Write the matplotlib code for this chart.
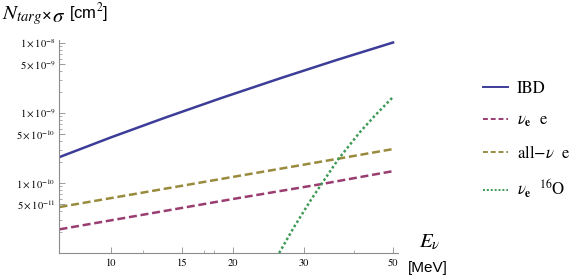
import matplotlib
matplotlib.use("Agg")
import matplotlib.pyplot as plt
from matplotlib.lines import Line2D
from matplotlib.ticker import FixedLocator, NullFormatter

plt.rcParams['mathtext.fontset'] = 'stix'
plt.rcParams['font.family'] = ['STIXGeneral', 'DejaVu Serif']

# valores (E em MeV, N_targ x sigma em cm^2)
e_ibd = [7.45, 10, 13.5, 18.7, 26.3, 36.3, 50]
s_ibd = [2.35e-10, 4.5e-10, 8.45e-10, 1.63e-9, 3.15e-9, 5.75e-9, 1.02e-8]

e_nue = [7.45, 20, 33, 50]
s_nue = [2.18e-11, 5.9e-11, 9.6e-11, 1.48e-10]

e_all = [7.45, 20, 36.6, 50]
s_all = [4.54e-11, 1.22e-10, 2.23e-10, 3.06e-10]

e_oxy = [26.1, 28.35, 31.2, 33.0, 36.6, 41.4, 45, 50]
s_oxy = [1.0e-11, 2.3e-11, 5.6e-11, 9.1e-11, 2.2e-10, 5.35e-10, 9.1e-10, 1.7e-9]

xticks = [10, 15, 20, 30, 50]
xminor = [12, 17, 18, 40]
yticks = [1e-8, 5e-9, 1e-9, 5e-10, 1e-10, 5e-11]
ylabels = [r'$1\times10^{-8}$', r'$5\times10^{-9}$', r'$1\times10^{-9}$',
           r'$5\times10^{-10}$', r'$1\times10^{-10}$', r'$5\times10^{-11}$']

azul = (0.24, 0.24, 0.6)
roxo = (0.6, 0.24, 0.442)
oliva = (0.6, 0.547, 0.24)
verde = (0.24, 0.6, 0.337)
cinza = '#8c8c8c'

fig = plt.figure(figsize=(5.81, 2.80), dpi=100)
ax = fig.add_axes([0.1024, 0.0964, 0.583, 0.761])

tracejado = (0, (3.2, 1.5))
ax.plot(e_ibd, s_ibd, color=azul, lw=1.8)
ax.plot(e_nue, s_nue, color=roxo, lw=1.8, linestyle=tracejado)
ax.plot(e_all, s_all, color=oliva, lw=1.8, linestyle=tracejado)
ax.plot(e_oxy, s_oxy, color=verde, lw=1.8, linestyle=(0, (1, 1)))

ax.set_xscale('log')
ax.set_yscale('log')
ax.set_xlim(7.45, 51.5)
ax.set_ylim(1e-11, 1.11e-8)

# eixos no estilo do Mathematica
for lado in ['top', 'right']:
    ax.spines[lado].set_visible(False)
for lado in ['left', 'bottom']:
    ax.spines[lado].set_color(cinza)
    ax.spines[lado].set_linewidth(0.8)

ax.xaxis.set_major_locator(FixedLocator(xticks))
ax.xaxis.set_minor_locator(FixedLocator(xminor))
ax.set_xticklabels([str(v) for v in xticks])
ax.xaxis.set_minor_formatter(NullFormatter())

menores = []
for dec in [1e-11, 1e-10, 1e-9]:
    for k in [2, 3, 4, 6, 7, 8, 9]:
        menores.append(k * dec)
ax.yaxis.set_major_locator(FixedLocator(yticks))
ax.yaxis.set_minor_locator(FixedLocator(menores))
ax.set_yticklabels(ylabels)
ax.yaxis.set_minor_formatter(NullFormatter())

ax.tick_params(which='major', direction='in', length=4, width=0.6,
               color=cinza, labelsize=7.5)
ax.tick_params(which='minor', direction='in', length=2, width=0.5,
               color=cinza)
ax.tick_params(axis='x', pad=4)
ax.tick_params(axis='y', pad=3)

# titulo do eixo y
t1 = fig.text(0.003, 0.985, r'$N_{targ}$', fontsize=15, ha='left', va='top')
t2 = ax.annotate('×', xy=(1, 0), xycoords=t1, xytext=(0, 2.5),
                 textcoords='offset points', fontsize=12, ha='left',
                 va='bottom', family='Liberation Sans', annotation_clip=False)
t3 = ax.annotate(r'$\sigma$', xy=(1, 0), xycoords=t2, xytext=(0, -2.5),
                 textcoords='offset points', fontsize=15, ha='left',
                 va='bottom', annotation_clip=False)
ax.annotate('[cm$^2$]', xy=(1, 0), xycoords=t3, xytext=(3, 2.5),
            textcoords='offset points', fontsize=12, ha='left', va='bottom',
            family='Liberation Sans', annotation_clip=False)

# titulo do eixo x
fig.text(0.739, 0.133, r'$E_{\nu}$', fontsize=15, ha='center', va='center')
fig.text(0.737, 0.043, '[MeV]', fontsize=11, ha='center', va='center',
         family='Liberation Sans')

alcas = [Line2D([], [], color=azul, lw=1.4),
         Line2D([], [], color=roxo, lw=1.4, linestyle=(0, (2.5, 1.5))),
         Line2D([], [], color=oliva, lw=1.4, linestyle=(0, (2.5, 1.5))),
         Line2D([], [], color=verde, lw=1.4, linestyle=(0, (1, 1)))]
nomes = ['IBD', r'$\nu_{\mathbf{e}}$  e', r'all$-\nu$  e',
         r'$\nu_{\mathbf{e}}$  $^{16}$O']
fig.legend(alcas, nomes, loc='upper left', bbox_to_anchor=(0.831, 0.71),
           frameon=False, fontsize=12, handlelength=1.5, handletextpad=0.55,
           labelspacing=0.95, borderpad=0, borderaxespad=0)

fig.savefig('out.png', dpi=100)
